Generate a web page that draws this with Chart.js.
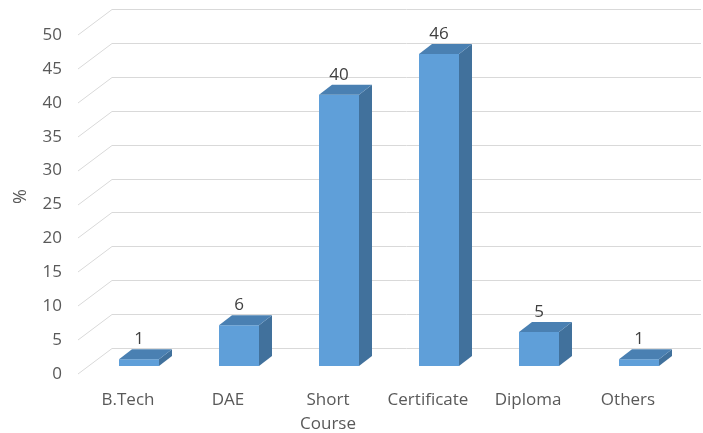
<!DOCTYPE html>
<html>
<head>
<meta charset="utf-8">
<script src="https://cdn.jsdelivr.net/npm/chart.js@4"></script>
<style>
	html, body { margin: 0; padding: 0; background: #fff; }
	#wrap { width: 703px; height: 433px; }
</style>
</head>
<body>
<div id="wrap"><canvas id="chart" width="703" height="433"></canvas></div>
<script>
const categories = [`B.Tech`, `DAE`, [`Short`, `Course`], `Certificate`, `Diploma`, `Others`];
const percentages = [1, 6, 40, 46, 5, 1];
const yTicks = [0, 5, 10, 15, 20, 25, 30, 35, 40, 45, 50];

const FONT = `"Open Sans", "Liberation Sans", sans-serif`;
const depthX = 13;   // 3d depth of each bar
const depthY = -10;

// slanted side wall + back wall gridlines, drawn from the y scale
const wallGrid = {
	id: `wallGrid`,
	beforeDatasetsDraw(chart) {
		const {ctx, scales: {y}, chartArea} = chart;
		ctx.save();
		ctx.strokeStyle = `#d9d9d9`;
		ctx.lineWidth = 1;
		yTicks.forEach(v => {
			const yf = Math.round(y.getPixelForValue(v));
			ctx.beginPath();
			ctx.moveTo(chartArea.left - 11, yf + 8);
			ctx.lineTo(chartArea.left + 23, yf - 18 + 0.5);
			ctx.lineTo(chart.width - 2, yf - 18 + 0.5);
			ctx.stroke();
		});
		ctx.restore();
	}
};

// top and side faces of the bars plus the value labels
const bars3d = {
	id: `bars3d`,
	afterDatasetsDraw(chart) {
		const {ctx} = chart;
		const meta = chart.getDatasetMeta(0);
		ctx.save();
		meta.data.forEach((bar, i) => {
			const {x, y, base, width} = bar.getProps([`x`, `y`, `base`, `width`], true);
			const left = x - width / 2;
			const right = x + width / 2;

			ctx.fillStyle = `#41719c`;
			ctx.beginPath();
			ctx.moveTo(right, y);
			ctx.lineTo(right + depthX, y + depthY);
			ctx.lineTo(right + depthX, base + depthY);
			ctx.lineTo(right, base);
			ctx.closePath();
			ctx.fill();

			ctx.fillStyle = `#4a80b2`;
			ctx.beginPath();
			ctx.moveTo(left, y);
			ctx.lineTo(left + depthX, y + depthY);
			ctx.lineTo(right + depthX, y + depthY);
			ctx.lineTo(right, y);
			ctx.closePath();
			ctx.fill();

			ctx.fillStyle = `#404040`;
			ctx.font = `17px ${FONT}`;
			ctx.textAlign = `center`;
			ctx.textBaseline = `middle`;
			ctx.fillText(String(percentages[i]), x, y - 20);
		});
		ctx.restore();
	}
};

new Chart(document.getElementById(`chart`), {
	type: `bar`,
	data: {
		labels: categories,
		datasets: [{
			data: percentages,
			backgroundColor: `#5f9fd9`,
			borderWidth: 0,
			barPercentage: 0.4,
			categoryPercentage: 1
		}]
	},
	options: {
		responsive: false,
		animation: false,
		layout: { padding: { top: 27, right: 14, left: 0, bottom: 0 } },
		plugins: {
			legend: { display: false },
			tooltip: { enabled: false }
		},
		scales: {
			x: {
				grid: { display: false, drawTicks: false },
				border: { display: false },
				ticks: {
					color: `#595959`,
					font: { family: FONT, size: 17, lineHeight: 1.4 },
					padding: 22,
					labelOffset: -11,
					maxRotation: 0,
					autoSkip: false
				},
				afterFit(scale) {
					scale.height = 67;
					scale.paddingLeft = 0;
					scale.paddingRight = 0;
				}
			},
			y: {
				min: yTicks[0],
				max: yTicks[yTicks.length - 1],
				grid: { display: false, drawTicks: false },
				border: { display: false },
				afterBuildTicks(scale) { scale.ticks = yTicks.map(v => ({value: v})); },
				ticks: {
					color: `#595959`,
					font: { family: FONT, size: 17 },
					padding: 27,
					labelOffset: 8
				},
				title: {
					display: true,
					text: `%`,
					color: `#595959`,
					font: { family: FONT, size: 18 },
					padding: { top: 10, bottom: 0 }
				},
				afterFit(scale) {
					scale.width = 89;
					scale.paddingTop = 0;
					scale.paddingBottom = 0;
				}
			}
		}
	},
	plugins: [wallGrid, bars3d]
});
</script>
</body>
</html>
